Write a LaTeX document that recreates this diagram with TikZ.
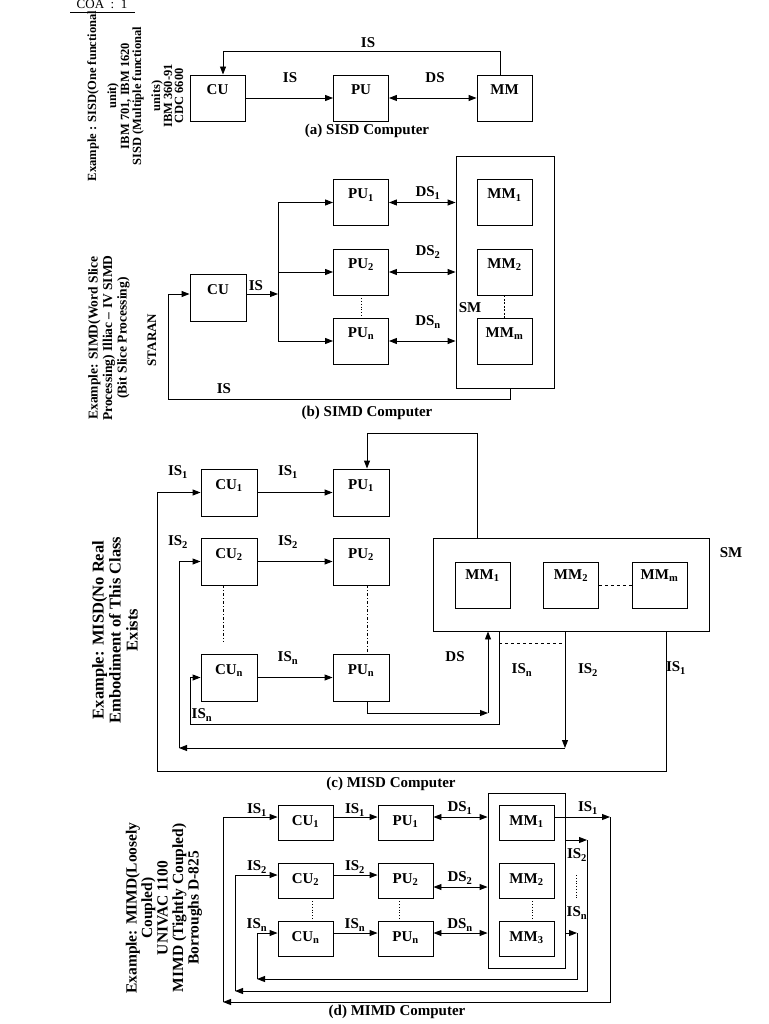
\documentclass[tikz,border=0pt]{standalone}
\usepackage{fontspec}
\setmainfont{Liberation Serif}
\usetikzlibrary{arrows.meta,calc}
\begin{document}
\begin{tikzpicture}[x=1pt,y=-1pt, line width=0.9pt,
  font=\bfseries\fontsize{15}{17}\selectfont,
  arr/.style={-{Triangle[length=8pt,width=6pt]}},
  darr/.style={{Triangle[length=8pt,width=6pt]}-{Triangle[length=8pt,width=6pt]}},
  box/.style={draw, minimum width=55pt, minimum height=46pt, inner sep=0pt, text height=10pt, text depth=17pt},
  sbox/.style={draw, minimum width=55pt, minimum height=35pt, inner sep=0pt, text height=10pt, text depth=5pt},
  lab/.style={inner sep=0pt},
  side/.style={rotate=90, align=center, inner sep=0pt, font=\bfseries\fontsize{12.5}{14}\selectfont}]
\useasboundingbox (0,0) rectangle (768,1024);

% ---------- header ----------
\node[lab, anchor=base, font=\fontsize{13}{15}\selectfont] (coa) at (102,9) {COA\ \ :\ \ 1};
\draw[line width=0.7pt] (70,12) -- (135,12);

% ---------- (a) SISD ----------
\node[side] (t1a) at (93,96) {Example : SISD(One functional};
\node[side] (t1b) at (113,96) {unit)};
\node[side] (t1c) at (126,96) {IBM 701, IBM 1620};
\node[side] (t1d) at (138,96) {SISD (Multiple functional};
\node[side] (t1e) at (157,96) {units)};
\node[side] (t1f) at (168,96) {IBM 360-91};
\node[side] (t1g) at (179,96) {CDC 6600};

\node[box] (cu) at (217.5,98) {CU};
\node[box] (pu) at (361,98) {PU};
\node[box] (mm) at (504.5,98) {MM};
\draw[arr] (cu) -- (pu);
\draw[darr] (pu) -- (mm);
\coordinate (fa) at (500,51);
\coordinate (fb) at (223,51);
\draw[arr] (mm.north -| fa) -- (fa) -- (fb) -- (cu.north -| fb);
\node[lab] (la1) at (290,78) {IS};
\node[lab] (la2) at (435,78) {DS};
\node[lab] (la3) at (368,43) {IS};
\node[lab] (capa) at (367,131) {(a) SISD Computer};

% ---------- (b) SIMD ----------
\node[side, font=\bfseries\fontsize{13.5}{14.5}\selectfont] (t2) at (109,338)
  {Example: SIMD(Word Slice\\Processing) Illiac -- IV SIMD\\(Bit Slice Processing)};
\node[side, font=\bfseries\fontsize{13}{15}\selectfont] (t2s) at (152,340) {STARAN};

\node[draw, minimum width=98pt, minimum height=232pt, inner sep=0pt] (ssm) at (505,272) {};
\node[box, minimum width=56pt, minimum height=47pt] (scu) at (218,297.5) {CU};
\node[box] (spu1) at (361,202.5) {PU\textsubscript{1}};
\node[box] (spu2) at (361,272) {PU\textsubscript{2}};
\node[box] (spun) at (361,341) {PU\textsubscript{n}};
\node[box] (smm1) at (504.5,202.5) {MM\textsubscript{1}};
\node[box] (smm2) at (504.5,272) {MM\textsubscript{2}};
\node[box] (smmm) at (504.5,341) {MM\textsubscript{m}};

\coordinate (bus) at (278,294);
\coordinate (bt) at (278,202.5);
\coordinate (bb) at (278,341);
\draw[arr] (scu.east |- bus) -- (bus);
\draw (bt) -- (bb);
\draw[arr] (bt) -- (spu1.west);
\draw[arr] (bus |- spu2) -- (spu2.west);
\draw[arr] (bb) -- (spun.west);
\draw[darr] (spu1.east) -- (spu1.east -| ssm.west);
\draw[darr] (spu2.east) -- (spu2.east -| ssm.west);
\draw[darr] (spun.east) -- (spun.east -| ssm.west);
\draw[dotted, line width=0.8pt] (spu2.south) -- (spun.north);
\draw[line width=1.6pt, dash pattern=on 2pt off 1.5pt] (smm2.south) -- (smmm.north);
\coordinate (sf1) at (510,399);
\coordinate (sf2) at (168,399);
\draw[arr] (ssm.south -| sf1) -- (sf1) -- (sf2) -- (sf2 |- bus) -- (scu.west |- bus);
\node[lab] (lb1) at (256,286) {IS};
\node[lab] (lb2) at (428,193) {DS\textsubscript{1}};
\node[lab] (lb3) at (428,252) {DS\textsubscript{2}};
\node[lab] (lb4) at (428,322) {DS\textsubscript{n}};
\node[lab] (lb5) at (470,308) {SM};
\node[lab] (lb6) at (224,389) {IS};
\node[lab] (capb) at (367,413) {(b) SIMD Computer};

% ---------- (c) MISD ----------
\node[side, font=\bfseries\fontsize{16.5}{17}\selectfont] (t3) at (115,630)
  {Example: MISD(No Real\\Embodiment of This Class\\Exists};

\node[box, minimum width=56pt, minimum height=47pt] (mcu1) at (229,492.5) {CU\textsubscript{1}};
\node[box, minimum width=56pt, minimum height=47pt] (mpu1) at (361,492.5) {PU\textsubscript{1}};
\node[box, minimum width=56pt, minimum height=47pt] (mcu2) at (229,561.5) {CU\textsubscript{2}};
\node[box, minimum width=56pt, minimum height=47pt] (mpu2) at (361,561.5) {PU\textsubscript{2}};
\node[box, minimum width=56pt, minimum height=47pt] (mcun) at (229,677.5) {CU\textsubscript{n}};
\node[box, minimum width=56pt, minimum height=47pt] (mpun) at (361,677.5) {PU\textsubscript{n}};
\node[draw, minimum width=276pt, minimum height=93pt, inner sep=0pt] (msm) at (571,584.5) {};
\node[box, text depth=21pt] (mmm1) at (482.5,585) {MM\textsubscript{1}};
\node[box, text depth=21pt] (mmm2) at (571,585) {MM\textsubscript{2}};
\node[box, text depth=21pt] (mmmm) at (659.5,585) {MM\textsubscript{m}};
\draw[dashed, line width=0.7pt] (mmm2.east) -- (mmmm.west);

\draw[arr] (mcu1) -- (mpu1);
\draw[arr] (mcu2) -- (mpu2);
\draw[arr] (mcun) -- (mpun);

\coordinate (mt1) at (477,433);
\coordinate (mt2) at (367,433);
\draw[arr] (msm.north -| mt1) -- (mt1) -- (mt2) -- (mpu1.north -| mt2);

\coordinate (dd1) at (223,642);
\draw[dash dot, line width=0.7pt] (mcu2.south -| dd1) -- (dd1);
\draw[dash dot, line width=0.7pt] (mpu2.south -| mt2) -- (mpun.north -| mt2);

\coordinate (l1a) at (666,771);
\coordinate (l1b) at (157,771);
\draw[arr] (msm.south -| l1a) -- (l1a) -- (l1b) -- (l1b |- mcu1) -- (mcu1.west);

\coordinate (l2a) at (565,748);
\coordinate (l2b) at (179,748);
\draw[arr] (msm.south -| l2a) -- (l2a);
\draw[arr] (l2a) -- (l2b);
\draw[arr] (l2b) -- (l2b |- mcu2) -- (mcu2.west);

\coordinate (lna) at (499,724);
\coordinate (lnb) at (190,724);
\draw[arr] (msm.south -| lna) -- (lna) -- (lnb) -- (lnb |- mcun) -- (mcun.west);

\coordinate (dsa) at (367,713);
\coordinate (dsb) at (488,713);
\draw[arr] (mpun.south -| dsa) -- (dsa) -- (dsb);
\draw[arr] (dsb) -- (msm.south -| dsb);

\coordinate (dh1) at (499,643);
\coordinate (dh2) at (565,643);
\draw[dashed, line width=0.7pt] (dh1) -- (dh2);

\node[lab] (lc1) at (178,472) {IS\textsubscript{1}};
\node[lab] (lc2) at (288,472) {IS\textsubscript{1}};
\node[lab] (lc3) at (178,542) {IS\textsubscript{2}};
\node[lab] (lc4) at (288,542) {IS\textsubscript{2}};
\node[lab] (lc5) at (288,658) {IS\textsubscript{n}};
\node[lab] (lc6) at (202,715) {IS\textsubscript{n}};
\node[lab] (lc7) at (455,657) {DS};
\node[lab] (lc8) at (522,670) {IS\textsubscript{n}};
\node[lab] (lc9) at (588,670) {IS\textsubscript{2}};
\node[lab] (lc10) at (676,668) {IS\textsubscript{1}};
\node[lab] (lc11) at (731,553) {SM};
\node[lab] (capc) at (391,784) {(c) MISD Computer};

% ---------- (d) MIMD ----------
\node[side, font=\bfseries\fontsize{15.5}{15.5}\selectfont] (t4) at (164,908)
  {Example: MIMD(Loosely\\Coupled)\\UNIVAC 1100\\MIMD (Tightly Coupled)\\Borroughs D-825};

\node[draw, minimum width=77pt, minimum height=175pt, inner sep=0pt] (dsm) at (526.5,880.5) {};
\node[sbox] (dcu1) at (305.5,822.5) {CU\textsubscript{1}};
\node[sbox] (dpu1) at (405.5,822.5) {PU\textsubscript{1}};
\node[sbox] (dcu2) at (305.5,880.5) {CU\textsubscript{2}};
\node[sbox] (dpu2) at (405.5,880.5) {PU\textsubscript{2}};
\node[sbox] (dcun) at (305.5,939) {CU\textsubscript{n}};
\node[sbox] (dpun) at (405.5,939) {PU\textsubscript{n}};
\node[sbox] (dmm1) at (526.5,822.5) {MM\textsubscript{1}};
\node[sbox] (dmm2) at (526.5,880.5) {MM\textsubscript{2}};
\node[sbox] (dmm3) at (526.5,939) {MM\textsubscript{3}};

\draw[arr] ($(dcu1.east)+(0,-5.5)$) -- ($(dpu1.west)+(0,-5.5)$);
\draw[arr] ($(dcu2.east)+(0,-5.5)$) -- ($(dpu2.west)+(0,-5.5)$);
\draw[arr] ($(dcun.east)+(0,-6)$) -- ($(dpun.west)+(0,-6)$);
\draw[darr] ($(dpu1.east)+(0,-5.5)$) -- ($(dpu1.east -| dsm.west)+(0,-5.5)$);
\draw[darr] ($(dpu2.east)+(0,6.5)$) -- ($(dpu2.east -| dsm.west)+(0,6.5)$);
\draw[darr] ($(dpun.east)+(0,-6)$) -- ($(dpun.east -| dsm.west)+(0,-6)$);

\coordinate (v1) at (312,905);
\draw[dotted, line width=0.8pt] (dcu2.south -| v1) -- (dcun.north -| v1);
\coordinate (v2) at (399,905);
\draw[dotted, line width=0.8pt] (dpu2.south -| v2) -- (dpun.north -| v2);
\coordinate (v3) at (532,905);
\draw[dotted, line width=0.8pt] (dmm2.south -| v3) -- (dmm3.north -| v3);

% IS1 loop
\coordinate (r1a) at (610,817);
\coordinate (r1b) at (610,1002);
\coordinate (r1c) at (223,1002);
\draw[arr] (dmm1.east |- r1a) -- (r1a);
\draw[arr] (r1a) -- (r1b) -- (r1c);
\draw[arr] (r1c) -- (r1c |- r1a) -- (dcu1.west |- r1a);
% IS2 loop
\coordinate (r2a) at (587,840);
\coordinate (r2b) at (587,991);
\coordinate (r2c) at (235,991);
\coordinate (r2d) at (235,875);
\draw[arr] (dsm.east |- r2a) -- (r2a);
\draw[arr] (r2a) -- (r2b) -- (r2c);
\draw[arr] (r2c) -- (r2d) -- (dcu2.west |- r2d);
% ISn loop
\coordinate (rna) at (577,933);
\coordinate (rnb) at (577,979);
\coordinate (rnc) at (257,979);
\draw[arr] (dsm.east |- rna) -- (rna);
\draw[arr] (rna) -- (rnb) -- (rnc);
\draw[arr] (rnc) -- (rnc |- rna) -- (dcun.west |- rna);

\coordinate (rv1) at (576,875);
\coordinate (rv2) at (576,898);
\draw[dotted, line width=0.8pt] (rv1) -- (rv2);

\node[lab] (ld1) at (257,810) {IS\textsubscript{1}};
\node[lab] (ld2) at (355,810) {IS\textsubscript{1}};
\node[lab] (ld3) at (460,808) {DS\textsubscript{1}};
\node[lab] (ld4) at (257,867) {IS\textsubscript{2}};
\node[lab] (ld5) at (355,867) {IS\textsubscript{2}};
\node[lab] (ld6) at (460,878) {DS\textsubscript{2}};
\node[lab] (ld7) at (257,925) {IS\textsubscript{n}};
\node[lab] (ld8) at (355,925) {IS\textsubscript{n}};
\node[lab] (ld9) at (460,925) {DS\textsubscript{n}};
\node[lab] (ld10) at (588,808) {IS\textsubscript{1}};
\node[lab] (ld11) at (577,855) {IS\textsubscript{2}};
\node[lab] (ld12) at (577,913) {IS\textsubscript{n}};
\node[lab] (capd) at (397,1012) {(d) MIMD Computer};
\end{tikzpicture}
\end{document}
